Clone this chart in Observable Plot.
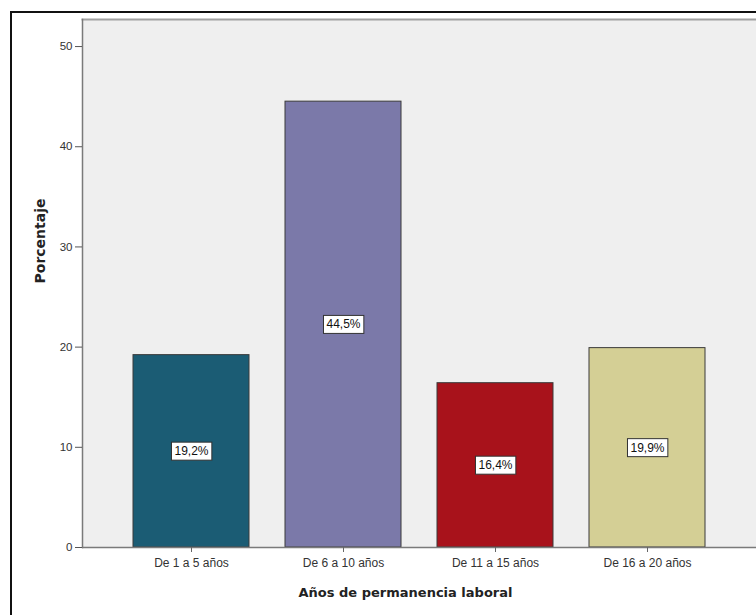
<!DOCTYPE html>
<html>
<head>
<meta charset="utf-8">
<script src="https://cdn.jsdelivr.net/npm/d3@7"></script>
<script src="https://cdn.jsdelivr.net/npm/@observablehq/plot@0.6"></script>
<style>
  html, body { margin: 0; padding: 0; background: #fff; }
  #wrap { position: relative; width: 756px; height: 615px; overflow: hidden; }
  #chart svg { display: block; }
  #edge { position: absolute; left: 10px; top: 11px; width: 800px; height: 700px;
          border-top: 2px solid #111; border-left: 2px solid #111; pointer-events: none; }
</style>
</head>
<body>
<div id="wrap"><div id="chart"></div><div id="edge"></div></div>
<script>
// Años de permanencia laboral: porcentaje de trabajadores por tramo
const categories = ["De 1 a 5 años", "De 6 a 10 años", "De 11 a 15 años", "De 16 a 20 años"];
const percentages = [19.2, 44.5, 16.4, 19.9];
const barColors = ["#1b5c74", "#7b79a9", "#a8121b", "#d4cf95"];
const yTicks = [0, 10, 20, 30, 40, 50];
const xTitle = "Años de permanencia laboral";
const yTitle = "Porcentaje";

const rows = categories.map((c, i) => ({
  category: c,
  value: percentages[i],
  label: percentages[i].toFixed(1).replace(".", ",") + "%"
}));

const chart = Plot.plot({
  width: 756,
  height: 615,
  marginTop: 19,
  marginLeft: 82,
  marginRight: 0,
  marginBottom: 68,
  style: { fontFamily: "'Liberation Sans', Arial, sans-serif", background: "transparent", color: "#333" },
  x: { domain: categories, paddingInner: 0.237, paddingOuter: 0.325, label: null },
  y: { domain: [0, 52.7], label: null },
  color: { domain: categories, range: barColors },
  marks: [
    Plot.frame({ fill: "#efefef", stroke: null }),
    Plot.frame({ anchor: "top", stroke: "#a0a0a0", strokeWidth: 2 }),
    Plot.barY(rows, { x: "category", y: "value", fill: "category", stroke: "#3a3a3a", strokeWidth: 1 }),
    Plot.frame({ anchor: "left", stroke: "#7a7a7a", strokeWidth: 1.5 }),
    Plot.ruleY([0], { stroke: "#7a7a7a", strokeWidth: 1.5 }),
    Plot.axisY({ ticks: yTicks, tickSize: 7, tickPadding: 3, fontSize: 11.5, tickFormat: d => d, stroke: "#555", label: null }),
    Plot.axisX({ tickSize: 5, tickPadding: 6, fontSize: 12, stroke: "#666", label: null }),
    Plot.text(rows, { x: "category", y: d => d.value / 2, text: "label", fontSize: 12, fill: "#111" }),
    Plot.text([xTitle], { frameAnchor: "bottom", dy: 45, dx: -14, fontSize: 13, fontWeight: "bold", fill: "#222",
                          fontFamily: "'DejaVu Sans', sans-serif", lineAnchor: "middle" }),
    Plot.text([yTitle], { frameAnchor: "left", dx: -42, rotate: -90, fontSize: 14, fontWeight: "bold", fill: "#222",
                          fontFamily: "'DejaVu Sans', sans-serif", lineAnchor: "middle" })
  ]
});

document.getElementById("chart").append(chart);

// white boxes behind the percentage labels
const valueLabels = new Set(rows.map(d => d.label));
Array.from(chart.querySelectorAll("text"))
  .filter(t => valueLabels.has(t.textContent.trim()))
  .forEach(t => {
    const b = t.getBBox();
    const r = document.createElementNS("http://www.w3.org/2000/svg", "rect");
    r.setAttribute("x", b.x - 3);
    r.setAttribute("y", b.y - 2);
    r.setAttribute("width", b.width + 6);
    r.setAttribute("height", b.height + 4);
    r.setAttribute("fill", "#fff");
    r.setAttribute("stroke", "#333");
    r.setAttribute("stroke-width", 1);
    const tr = t.getAttribute("transform");
    if (tr) r.setAttribute("transform", tr);
    t.parentNode.insertBefore(r, t);
  });
</script>
</body>
</html>
